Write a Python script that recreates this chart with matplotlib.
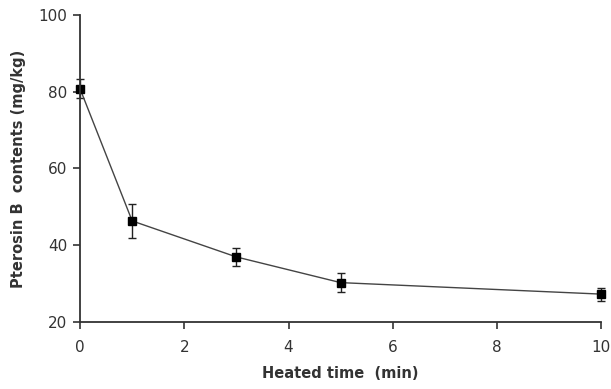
import numpy as np
from matplotlib import pyplot as plt

# heated time vs pterosin B content
time_min = [0, 1, 3, 5, 10]
content = [80.8, 46.3, 36.9, 30.2, 27.2]
err = [2.5, 4.5, 2.4, 2.4, 1.7]

fig = plt.figure(figsize=(6.11, 3.89), dpi=100)
ax = fig.add_axes([0.131, 0.173, 0.853, 0.788])

lines = ax.errorbar(time_min, content, yerr=err, color='#444444', lw=1.0,
                    marker='s', markersize=5.5, mfc='black', mec='black',
                    ecolor='#222222', elinewidth=1.0, capsize=3, capthick=1.0)
for artist in lines.get_children():
    artist.set_clip_on(False)

ax.set_xlim(0, 10)
ax.set_ylim(20, 100)
ax.set_xticks(np.arange(0, 11, 2))
ax.set_yticks(np.arange(20, 101, 20))

for s in ['top', 'right']:
    ax.spines[s].set_visible(False)
for s in ['left', 'bottom']:
    ax.spines[s].set_linewidth(1.3)
    ax.spines[s].set_color('#333333')

ax.tick_params(direction='out', length=5, width=1.2, colors='#333333',
               labelsize=11, labelcolor='#333333', pad=8)
ax.tick_params(axis='y', pad=4)

ax.set_xlabel('Heated time  (min)', fontsize=10.5, fontweight='bold', color='#333333', labelpad=8)
ax.set_ylabel('Pterosin B  contents (mg/kg)', fontsize=10.5, fontweight='bold', color='#333333', labelpad=9)

fig.savefig('out.png', dpi=100)
